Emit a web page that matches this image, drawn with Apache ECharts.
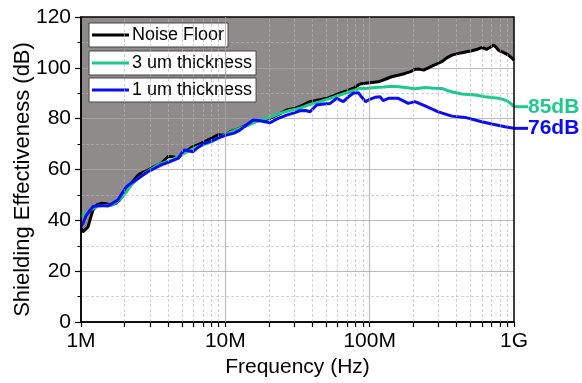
<!DOCTYPE html>
<html>
<head>
<meta charset="utf-8">
<script src="https://cdn.jsdelivr.net/npm/echarts@6/dist/echarts.min.js"></script>
<style>
  html, body { margin: 0; padding: 0; background: #fff; }
</style>
</head>
<body>
<div id="chart" style="width: 582px; height: 383px"></div>
<script>
// frequency in MHz, shielding effectiveness in dB
const noiseFreq = [1, 1.03, 1.08, 1.12, 1.21, 1.3, 1.38, 1.5, 1.62, 1.75, 1.85, 2.0, 2.12, 2.3, 2.48, 2.7, 2.91, 3.2, 3.6, 4.0, 4.3, 4.7, 5.1, 5.5, 5.97, 6.6, 7.2, 8.0, 8.9, 10, 10.8, 12.6, 14, 15.5, 17.4, 20.4, 23.9, 26.6, 30, 33, 38.6, 45, 50.5, 56, 62.3, 70, 76.5, 85.7, 93.5, 100, 115, 128, 142, 160, 176, 192, 206, 220, 236, 255, 269, 290, 316, 340, 371, 400, 435, 470, 510, 550, 598, 648, 690, 720, 750, 779, 850, 914, 960, 1000]
const noiseVals = [36.9, 35.5, 36.5, 37.5, 44.1, 46.2, 46.7, 46.5, 46, 46.8, 48, 50.5, 52.6, 55.5, 57.8, 59, 59.8, 61, 62.4, 65, 65, 64.4, 66.5, 67.7, 69, 70, 71, 72.3, 73.6, 73.6, 74.9, 76.2, 77.5, 78.8, 79.3, 80.1, 82, 83.4, 84, 84.8, 86.7, 87.5, 88, 89, 90, 91, 91.9, 93.6, 93.9, 94.1, 94.5, 95.5, 96.5, 97.2, 97.8, 98.5, 99.4, 99.5, 99.1, 100, 100.7, 101.5, 102.4, 103.8, 105, 105.5, 105.9, 106.3, 106.7, 107.2, 108, 107.3, 108.2, 109, 108.2, 107, 106, 105, 104, 103]

const thick3Freq = [1, 1.12, 1.2, 1.31, 1.45, 1.62, 1.75, 1.9, 2.05, 2.23, 2.5, 2.76, 3.1, 3.42, 3.8, 4.23, 4.7, 5.23, 5.8, 6.46, 7.2, 8.0, 8.9, 9.9, 11, 12.6, 14.5, 17.4, 20, 23.9, 28, 32.9, 38, 45.3, 52, 62.3, 72, 85.7, 93.5, 109, 125, 142, 160, 176, 206, 242, 280, 316, 340, 371, 435, 537, 631, 779, 850, 914, 960, 1000]
const thick3Vals = [41.4, 43.4, 44.5, 45.6, 45.8, 46, 47, 48.7, 51, 53.9, 56.5, 58.5, 60.3, 61.8, 62.8, 63.7, 65, 66.4, 67.7, 69, 70, 70.9, 72.2, 73.6, 74.8, 76.2, 77.5, 79.5, 80.3, 82.1, 83.2, 84.1, 85.5, 86.7, 87.8, 89.3, 90.5, 91.9, 91.9, 92.3, 92.5, 92.8, 92.6, 92.3, 91.8, 92.3, 92, 91.9, 91.2, 90.6, 89.7, 89.3, 88.6, 88, 87.5, 86.7, 85.7, 84.7]

const thick1Freq = [1, 1.03, 1.09, 1.21, 1.35, 1.54, 1.8, 2.06, 2.27, 2.48, 2.91, 3.25, 3.6, 4.1, 4.7, 5.2, 5.97, 6.5, 7.2, 8.2, 9.4, 10.5, 11.5, 12.6, 14, 15.6, 17, 20.4, 23, 26.6, 30, 32.9, 36, 38.6, 43, 48, 53.2, 59.1, 65.7, 71, 76.9, 83.5, 88, 93.5, 100, 109, 118, 124, 135, 158, 185, 206, 242, 299, 371, 458, 598, 701, 867, 1000]
const thick1Vals = [37.5, 38.8, 42.1, 45.4, 45.8, 45.6, 48, 53.2, 55, 56.5, 59.1, 60.5, 61.8, 63, 64.4, 67.7, 67, 68.8, 70.3, 71.5, 72.9, 73.8, 74.3, 75.5, 77.5, 79.5, 79.3, 78.4, 80, 81.4, 82.3, 83.1, 83.2, 82.7, 85.4, 85.8, 86, 88, 86.7, 88.5, 90, 90.2, 88.5, 86.7, 87.6, 88.4, 88.6, 87.1, 88, 88, 86, 86.7, 85, 82.7, 81, 80.5, 78.8, 77.9, 76.8, 76.2]

const tickValues = [1, 10, 100, 1000]
const tickLabels = ['1M', '10M', '100M', '1G']
const majorGridFreq = [10, 100]
const minorFreq = [2, 3, 4, 5, 6, 7, 8, 9, 20, 30, 40, 50, 60, 70, 80, 90, 200, 300, 400, 500, 600, 700, 800, 900]

const FONT = 'Liberation Sans, Arial, sans-serif'
const GREEN = '#1ec98e'
const BLUE = '#0c0cf2'
const MAJOR_GRID = { color: 'rgba(165,165,165,0.75)', width: 1.2, type: 'solid' }
const MINOR_GRID = { color: 'rgba(180,180,180,0.6)', width: 1, type: [3, 2] }

const pairs = (xs, ys) => xs.map((x, i) => [x, ys[i]])

const legendBox = (name, top) => ({
  data: [name],
  left: 89,
  top: top,
  orient: 'horizontal',
  backgroundColor: '#fff',
  borderColor: '#444',
  borderWidth: 1,
  padding: [3, 4, 3, 3],
  icon: 'rect',
  itemWidth: 37,
  itemHeight: 3,
  itemGap: 4,
  selectedMode: false,
  textStyle: { fontFamily: FONT, fontSize: 18, color: '#000', padding: [0, 0, 0, -2] }
})

const option = {
  animation: false,
  backgroundColor: '#fff',
  grid: {
    left: 81,
    right: 68,
    top: 17,
    bottom: 61,
    outerBoundsMode: 'none',
    containLabel: false,
    show: true,
    z: 4,
    backgroundColor: 'transparent',
    borderColor: '#000',
    borderWidth: 1.5
  },
  legend: [
    legendBox('Noise Floor', 23),
    legendBox('3 um thickness', 51),
    legendBox('1 um thickness', 78)
  ],
  xAxis: {
    type: 'log',
    logBase: 10,
    min: 1,
    max: 1000,
    z: 2,
    name: 'Frequency (Hz)',
    nameLocation: 'middle',
    nameGap: 35,
    nameMoveOverlap: false,
    nameTextStyle: { fontFamily: FONT, fontSize: 21, color: '#000' },
    axisLine: { lineStyle: { color: '#000', width: 1.5 } },
    axisTick: {
      inside: false,
      length: 5,
      customValues: tickValues.concat(minorFreq),
      lineStyle: { color: '#000', width: 1.2 }
    },
    axisLabel: {
      margin: 9,
      fontFamily: FONT,
      fontSize: 21,
      color: '#000',
      customValues: tickValues,
      formatter: (v) => {
        const i = tickValues.indexOf(Math.round(v))
        return i >= 0 ? tickLabels[i] : ''
      }
    },
    splitLine: { show: false }
  },
  yAxis: {
    type: 'value',
    min: 0,
    max: 120,
    interval: 20,
    z: 2,
    name: 'Shielding Effectiveness (dB)',
    nameLocation: 'middle',
    nameGap: 47,
    nameMoveOverlap: false,
    nameTextStyle: { fontFamily: FONT, fontSize: 22, color: '#000', padding: [0, 20, 0, 0] },
    axisLine: { show: true, lineStyle: { color: '#000', width: 1.5 } },
    axisTick: { show: true, inside: false, length: 6, lineStyle: { color: '#000', width: 1.2 } },
    minorTick: { show: true, splitNumber: 2, length: 3.5, lineStyle: { color: '#000', width: 1 } },
    axisLabel: { margin: 10, fontFamily: FONT, fontSize: 21, color: '#000' },
    splitLine: { show: true, lineStyle: MAJOR_GRID },
    minorSplitLine: { show: true, lineStyle: MINOR_GRID }
  },
  series: [
    {
      name: 'floor-fill',
      type: 'line',
      z: 1,
      data: pairs(noiseFreq, noiseVals),
      symbol: 'none',
      silent: true,
      lineStyle: { width: 0, opacity: 0 },
      areaStyle: { origin: 'end', color: '#8f8b8b', opacity: 1 }
    },
    {
      name: 'x-grid',
      type: 'line',
      z: 2,
      data: [],
      silent: true,
      markLine: {
        silent: true,
        symbol: 'none',
        label: { show: false },
        data: minorFreq.map((f) => ({ xAxis: f, lineStyle: MINOR_GRID }))
          .concat(majorGridFreq.map((f) => ({ xAxis: f, lineStyle: MAJOR_GRID })))
      }
    },
    {
      name: 'Noise Floor',
      type: 'line',
      z: 3,
      data: pairs(noiseFreq, noiseVals),
      symbol: 'none',
      color: '#000',
      lineStyle: { color: '#000', width: 3 }
    },
    {
      name: '3 um thickness',
      type: 'line',
      z: 3,
      data: pairs(thick3Freq, thick3Vals),
      symbol: 'none',
      color: GREEN,
      lineStyle: { color: GREEN, width: 3 },
      endLabel: {
        show: true,
        distance: 0,
        formatter: '{b|}85dB',
        fontFamily: FONT,
        fontSize: 21,
        fontWeight: 'bold',
        color: GREEN,
        rich: { b: { width: 14, height: 3, backgroundColor: GREEN } }
      }
    },
    {
      name: '1 um thickness',
      type: 'line',
      z: 3,
      data: pairs(thick1Freq, thick1Vals),
      symbol: 'none',
      color: BLUE,
      lineStyle: { color: BLUE, width: 3 },
      endLabel: {
        show: true,
        distance: 0,
        formatter: '{b|}76dB',
        fontFamily: FONT,
        fontSize: 21,
        fontWeight: 'bold',
        color: BLUE,
        rich: { b: { width: 14, height: 3, backgroundColor: BLUE } }
      }
    }
  ]
}

const myChart = echarts.init(document.getElementById('chart'))
myChart.setOption(option)
window.addEventListener('resize', () => {
  myChart.resize()
})
</script>
</body>
</html>
